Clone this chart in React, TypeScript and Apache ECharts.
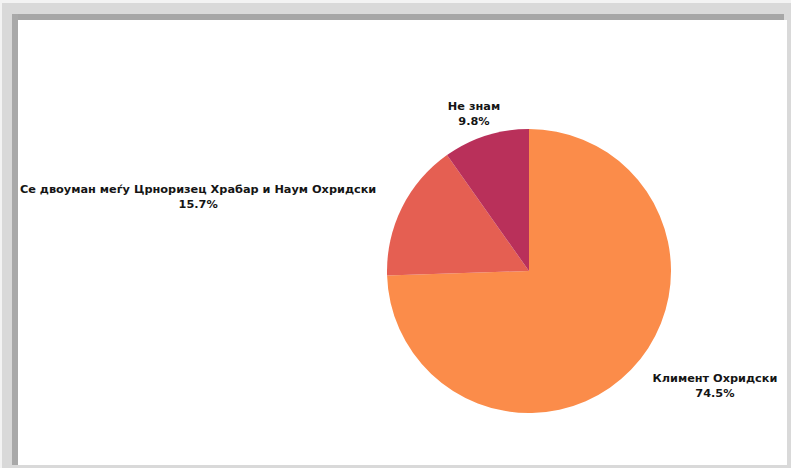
import React, { useEffect, useRef } from "react";
import * as echarts from "echarts";

const categories = [
  "Климент Охридски",
  "Се двоуман меѓу Црноризец Храбар и Наум Охридски",
  "Не знам",
];
const values = [74.5, 15.7, 9.8];
const colors = ["#FB8C4A", "#E55F52", "#B9305A"];

export default function App() {
  const ref = useRef<HTMLDivElement>(null);
  useEffect(() => {
    if (!ref.current) return;
    const chart = echarts.init(ref.current, undefined, { renderer: "svg" });
    chart.setOption({
      animation: false,
      backgroundColor: "#f3f3f3",
      graphic: [
        { type: "rect", silent: true, z: -10, shape: { x: 2, y: 3, width: 789, height: 465 }, style: { fill: "#d9d9d9" } },
        { type: "rect", silent: true, z: -9, shape: { x: 12, y: 14, width: 772, height: 7 }, style: { fill: "#a6a6a6" } },
        { type: "rect", silent: true, z: -9, shape: { x: 12, y: 14, width: 6, height: 451 }, style: { fill: "#a9a9a9" } },
        { type: "rect", silent: true, z: -8, shape: { x: 18, y: 20, width: 769, height: 445 }, style: { fill: "#ffffff" } },
      ],
      series: [
        {
          type: "pie",
          center: [529, 271],
          radius: 142,
          startAngle: 90,
          clockwise: true,
          avoidLabelOverlap: false,
          data: categories.map((c, i) => ({
            name: c,
            value: values[i],
            itemStyle: { color: colors[i] },
          })),
          label: {
            show: true,
            position: "outside",
            formatter: (p: any) => `${p.name}\n${p.value.toFixed(1)}%`,
            fontFamily: "DejaVu Sans",
            fontWeight: "bold",
            fontSize: 11.3,
            lineHeight: 15,
            color: "#151515",
            overflow: "none",
            distanceToLabelLine: 5,
          },
          labelLine: { show: false, length: 23, length2: 0 },
          labelLayout: (params: any) => {
            const r = params.labelRect;
            if (params.dataIndex === 2) {
              return { align: "center" };
            }
            return { x: r.x + r.width / 2, align: "center" };
          },
          emphasis: { disabled: true },
        },
      ],
    });
    return () => chart.dispose();
  }, []);
  return (
    <div
      ref={ref}
      style={{ position: "fixed", left: 0, top: 0, width: 791, height: 468 }}
    />
  );
}
